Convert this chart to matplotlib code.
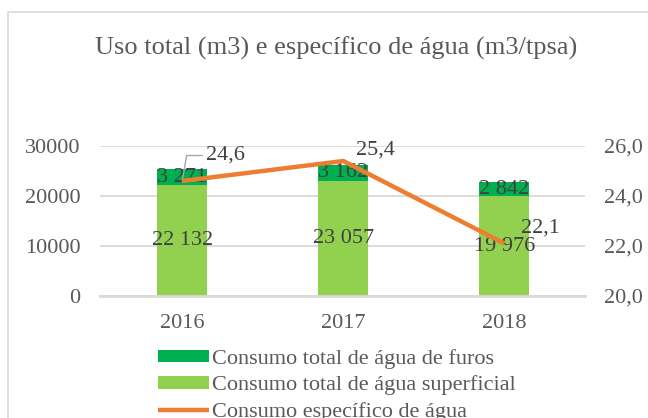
import matplotlib.pyplot as plt
from matplotlib.patches import Rectangle

years = ['2016', '2017', '2018']
superficial = [22132, 23057, 19976]
furos = [3271, 3162, 2842]
especifico = [24.6, 25.4, 22.1]

dark_green = '#00B050'
light_green = '#92D050'
orange = '#ED7D31'
grid_col = '#D9D9D9'
txt_col = '#595959'
lbl_col = '#404040'
fs = 16

plt.rcParams['font.family'] = ['Liberation Serif', 'DejaVu Serif']

fig = plt.figure(figsize=(6.48, 4.18), dpi=100)
# chart frame (cropped on the right and bottom like the original)
fig.patches.append(Rectangle((8 / 648, -0.1), 1.0, 1 - 12 / 418 + 0.1,
                             transform=fig.transFigure, fill=False,
                             edgecolor=grid_col, linewidth=1.2))

ax = fig.add_axes([100 / 648, 1 - 296 / 418, 485 / 648, 150 / 418])
x = list(range(len(years)))
b1 = ax.bar(x, superficial, width=0.31, color=light_green, zorder=2,
            label='Consumo total de água superficial')
b2 = ax.bar(x, furos, width=0.31, bottom=superficial, color=dark_green, zorder=2,
            label='Consumo total de água de furos')

fmt = lambda v: f'{v:,}'.replace(',', ' ')
for i in x:
    ax.text(i, superficial[i] / 2, fmt(superficial[i]), ha='center', va='center',
            fontsize=fs, color=lbl_col, zorder=3)
    ax.text(i, superficial[i] + furos[i] / 2, fmt(furos[i]), ha='center', va='center',
            fontsize=fs, color=lbl_col, zorder=3)

ax.set_ylim(0, 30000)
ax.set_yticks([0, 10000, 20000, 30000])
ax.set_xlim(-0.51, 2.5)
ax.set_xticks(x)
ax.set_xticklabels(years)
ax.grid(axis='y', color=grid_col, linewidth=1.3, zorder=0)
for s in ['top', 'right', 'left']:
    ax.spines[s].set_visible(False)
ax.spines['bottom'].set_color(grid_col)
ax.spines['bottom'].set_linewidth(2)
ax.tick_params(axis='both', length=0, labelsize=fs, labelcolor=txt_col)
ax.tick_params(axis='y', pad=14)
ax.tick_params(axis='x', pad=13)

ax2 = ax.twinx()
ln, = ax2.plot(x, especifico, color=orange, linewidth=3.2, zorder=4,
               solid_capstyle='butt', label='Consumo específico de água')
ax2.set_ylim(20, 26)
ax2.set_yticks([20, 22, 24, 26])
ax2.set_yticklabels([f'{v:.1f}'.replace('.', ',') for v in [20, 22, 24, 26]])
ax2.tick_params(axis='y', length=0, labelsize=fs, labelcolor=txt_col, pad=14)
for s in ax2.spines.values():
    s.set_visible(False)

lbl = lambda v: f'{v:.1f}'.replace('.', ',')
ax2.annotate(lbl(especifico[0]), xy=(x[0], especifico[0]), xytext=(x[0] + 0.15, 25.62),
             fontsize=fs, color=lbl_col, va='center', ha='left',
             arrowprops=dict(arrowstyle='-', color='#A6A6A6', lw=1,
                             shrinkA=1, shrinkB=0,
                             connectionstyle='angle,angleA=0,angleB=80,rad=0'))
ax2.annotate(lbl(especifico[1]), xy=(x[1], especifico[1]), xytext=(9, 8),
             textcoords='offset points', fontsize=fs, color=lbl_col, va='center', ha='left')
ax2.annotate(lbl(especifico[2]), xy=(x[2], especifico[2]), xytext=(12, 11),
             textcoords='offset points', fontsize=fs, color=lbl_col, va='center', ha='left')

fig.text(336 / 648, 1 - 48 / 418, 'Uso total (m3) e específico de água (m3/tpsa)',
         ha='center', va='center', fontsize=19, color=txt_col)

fig.legend([b2, b1, ln], [b2.get_label(), b1.get_label(), ln.get_label()],
           loc='upper left', bbox_to_anchor=(158 / 648, 1 - 349 / 418),
           frameon=False, fontsize=fs, labelcolor=txt_col,
           handlelength=2.3, handleheight=0.5, handletextpad=0.15,
           labelspacing=0.3, borderaxespad=0, borderpad=0)

fig.savefig('out.png', dpi=100)
